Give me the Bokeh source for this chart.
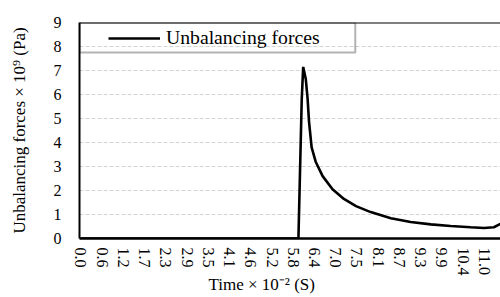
from bokeh.plotting import figure
from bokeh.models import (Range1d, FixedTicker, Span, Legend, LegendItem,
                          BoxAnnotation, Title)
from bokeh.embed import file_html
from bokeh.resources import INLINE

# ---- data (time x 10^-2 s, unbalancing force x 10^9 Pa) ----
time_vals = [0.0, 5.93, 6.02, 6.06, 6.13, 6.18, 6.22, 6.29, 6.40, 6.59,
             6.86, 7.17, 7.50, 7.90, 8.45, 8.99, 9.54, 10.08, 10.63,
             10.99, 11.26, 11.44]
force_vals = [0.0, 0.0, 5.8, 7.15, 6.65, 5.82, 4.85, 3.8, 3.2, 2.6,
              2.05, 1.65, 1.35, 1.10, 0.84, 0.69, 0.59, 0.52, 0.47,
              0.44, 0.47, 0.61]

x_tick_pos = [0.0, 0.579, 1.158, 1.737, 2.316, 2.895, 3.474, 4.053, 4.632,
              5.211, 5.789, 6.368, 6.947, 7.526, 8.105, 8.684, 9.263,
              9.842, 10.421, 11.0]
x_tick_labels = ["0.0", "0.6", "1.2", "1.7", "2.3", "2.9", "3.5", "4.1",
                 "4.6", "5.2", "5.8", "6.4", "7.0", "7.5", "8.1", "8.7",
                 "9.3", "9.9", "10.4", "11.0"]
y_ticks = [0, 1, 2, 3, 4, 5, 6, 7, 8, 9]

series_name = "Unbalancing forces"
y_title = "Unbalancing forces \u00d7 10\u2079 (Pa)"
x_title = "Time \u00d7 10\u207b\u00b2 (S)"

FONT_Q = "'Liberation Serif'"
FONT = "Liberation Serif"

p = figure(width=500, height=297, output_backend="svg", toolbar_location=None,
           x_range=Range1d(-0.04, 11.44), y_range=Range1d(0, 9),
           min_border_left=79, min_border_right=0, min_border_top=22,
           min_border_bottom=59)
p.outline_line_color = None
p.background_fill_color = "white"
p.border_fill_color = "white"

line = p.line(time_vals, force_vals, line_color="black", line_width=2.6)

# axes
p.xaxis.ticker = FixedTicker(ticks=x_tick_pos)
p.xaxis.major_label_overrides = {t: l for t, l in zip(x_tick_pos, x_tick_labels)}
p.xaxis.major_label_orientation = "vertical"
p.yaxis.ticker = FixedTicker(ticks=y_ticks)
for ax in (p.xaxis[0], p.yaxis[0]):
    ax.major_tick_line_color = None
    ax.minor_tick_line_color = None
    ax.major_tick_out = 0
    ax.major_tick_in = 0
    ax.axis_line_color = "black"
    ax.major_label_text_font_size = "16px"
    ax.major_label_text_color = "black"
p.xaxis.major_label_text_font = FONT_Q
p.yaxis.major_label_text_font = "Times New Roman"
p.xaxis.axis_line_width = 2.5
p.yaxis.axis_line_width = 2
p.xaxis.major_label_standoff = 9
p.yaxis.major_label_standoff = 18

p.yaxis.axis_label = y_title
p.yaxis.axis_label_text_font = "serif"
p.yaxis.axis_label_text_font_size = "17px"
p.yaxis.axis_label_text_font_style = "normal"
p.yaxis.axis_label_text_color = "black"
p.yaxis.axis_label_standoff = 22

# grid
p.xgrid.grid_line_color = None
p.ygrid.grid_line_color = "#d4d4d4"
p.ygrid.grid_line_dash = "4 2"
p.ygrid.grid_line_width = 1

# top border of plot area
p.add_layout(Span(location=9, dimension="width", line_color="black", line_width=2))

# legend frame and legend
p.add_layout(BoxAnnotation(left=-0.04, right=7.48, top=9, bottom=7.75,
                           fill_color=None, line_color="black", line_width=2))
legend = Legend(items=[LegendItem(label=series_name, renderers=[line])],
                location=(29, 189), padding=0, margin=0,
                border_line_color=None, background_fill_alpha=0,
                glyph_width=52, glyph_height=20, label_standoff=6,
                label_text_font=FONT, label_text_font_size="19.7px",
                label_text_color="black")
p.add_layout(legend)

# x axis title
p.add_layout(Title(text=x_title, align="left", offset=129, standoff=-11,
                   text_font=FONT, text_font_size="17px",
                   text_font_style="normal", text_color="black"), "below")

open("out.html", "w").write(file_html(p, INLINE))
